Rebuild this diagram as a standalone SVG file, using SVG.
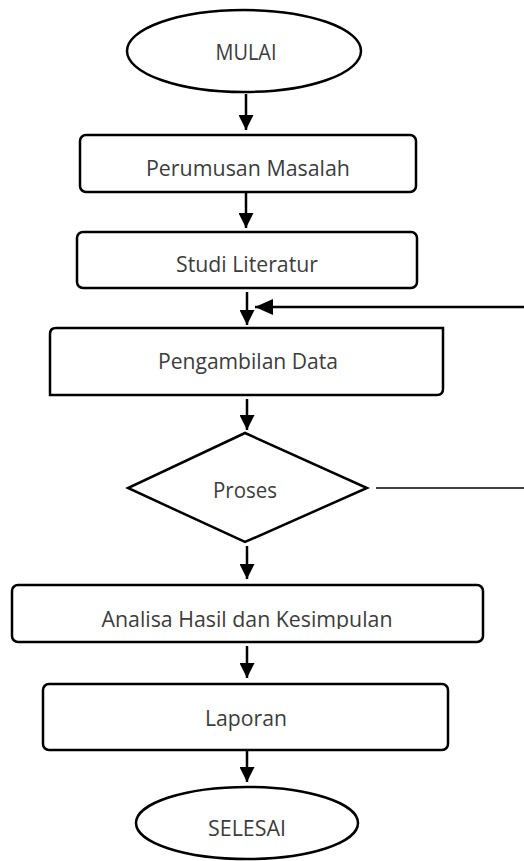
<svg xmlns="http://www.w3.org/2000/svg" width="524" height="861" viewBox="0 0 524 861">
<style>
.shape{fill:#fff;stroke:#000;stroke-width:2.5}
.lbl{font-family:"Open Sans","Liberation Sans",sans-serif;font-size:21px;fill:#3c3c3c;text-anchor:middle}
.conn{stroke:#000;stroke-width:2.5;fill:none}
.thin{stroke:#000;stroke-width:1.3;fill:none}
</style>
<defs>
<marker id="ah" viewBox="0 0 10 10" refX="10" refY="5" markerWidth="15" markerHeight="15" markerUnits="userSpaceOnUse" orient="auto">
<path d="M0,0 L10,5 L0,10 Z" fill="#000"/>
</marker>
<marker id="ah2" viewBox="0 0 10 10" refX="10" refY="5" markerWidth="18" markerHeight="16" markerUnits="userSpaceOnUse" orient="auto" preserveAspectRatio="none">
<path d="M0,0 L10,5 L0,10 Z" fill="#000"/>
</marker>
<clipPath id="clipA"><rect x="0" y="585" width="524" height="44"/></clipPath>
</defs>
<rect width="524" height="861" fill="#fff"/>
<g id="connectors">
<line class="conn" x1="246" y1="94" x2="246" y2="130" marker-end="url(#ah)"/>
<line class="conn" x1="246" y1="193" x2="246" y2="228" marker-end="url(#ah)"/>
<line class="conn" x1="247" y1="292" x2="247" y2="325" marker-end="url(#ah)"/>
<line class="conn" x1="524" y1="307" x2="255" y2="307" marker-end="url(#ah2)"/>
<line class="conn" x1="247" y1="399" x2="247" y2="430" marker-end="url(#ah)"/>
<line class="thin" x1="376" y1="488" x2="524" y2="488"/>
<line class="conn" x1="247" y1="546" x2="247" y2="579" marker-end="url(#ah)"/>
<line class="conn" x1="247" y1="646" x2="247" y2="678" marker-end="url(#ah)"/>
<line class="conn" x1="247" y1="750" x2="247" y2="782" marker-end="url(#ah)"/>
</g>
<g id="mulai">
<ellipse class="shape" cx="244" cy="51" rx="117" ry="41"/>
<text class="lbl" x="246" y="60" textLength="61" lengthAdjust="spacingAndGlyphs">MULAI</text>
</g>
<g id="perumusan">
<rect class="shape" x="80" y="135" width="336" height="57" rx="6"/>
<text class="lbl" x="248" y="176" textLength="204" lengthAdjust="spacingAndGlyphs">Perumusan Masalah</text>
</g>
<g id="studi">
<rect class="shape" x="77" y="232" width="340" height="56" rx="6"/>
<text class="lbl" x="247" y="272" textLength="142" lengthAdjust="spacingAndGlyphs">Studi Literatur</text>
</g>
<g id="pengambilan">
<path class="shape" d="M50,395 L50,334 Q50,328 56,328 L443,328 L443,389 Q443,395 437,395 Z"/>
<text class="lbl" x="248" y="369" textLength="180" lengthAdjust="spacingAndGlyphs">Pengambilan Data</text>
</g>
<g id="proses">
<polygon class="shape" points="245,433 367,488 245,542 128,488"/>
<text class="lbl" x="245" y="498" textLength="64" lengthAdjust="spacingAndGlyphs">Proses</text>
</g>
<g id="analisa">
<rect class="shape" x="12" y="585" width="471" height="57" rx="6"/>
<text class="lbl" x="247" y="627" textLength="291" lengthAdjust="spacingAndGlyphs" clip-path="url(#clipA)">Analisa Hasil dan Kesimpulan</text>
</g>
<g id="laporan">
<rect class="shape" x="43" y="684" width="405" height="66" rx="6"/>
<text class="lbl" x="246" y="726" textLength="82" lengthAdjust="spacingAndGlyphs">Laporan</text>
</g>
<g id="selesai">
<ellipse class="shape" cx="247" cy="823" rx="111" ry="36"/>
<text class="lbl" x="247" y="836" textLength="78" lengthAdjust="spacingAndGlyphs">SELESAI</text>
</g>
</svg>
